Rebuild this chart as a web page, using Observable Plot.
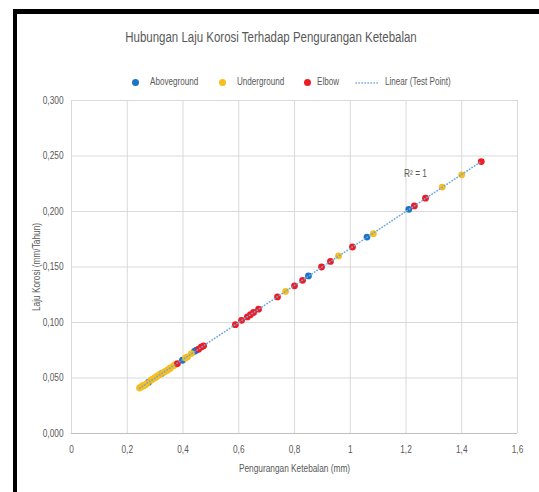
<!DOCTYPE html>
<html>
<head>
<meta charset="utf-8">
<script src="https://cdn.jsdelivr.net/npm/d3@7"></script>
<script src="https://cdn.jsdelivr.net/npm/@observablehq/plot@0.6"></script>
<style>
  html, body { margin: 0; padding: 0; background: #fff; }
  body { width: 539px; height: 492px; position: relative; overflow: hidden;
         font-family: "Liberation Sans", sans-serif; color: #595959; }
  #frame { position: absolute; left: 13px; top: 9px; width: 530px; height: 490px;
           border-left: 4px solid #000; border-top: 5px solid #000; box-sizing: border-box; }
  #title { position: absolute; left: 271px; top: 29px; font-size: 14px; color: #595959; white-space: nowrap;
           transform: translateX(-50%) scaleX(0.82); }
  .leg { position: absolute; top: 76px; font-size: 10px; color: #595959; white-space: nowrap;
         transform: scaleX(0.81); transform-origin: 0 50%; }
  .dot { position: absolute; top: 79px; width: 7px; height: 7px; border-radius: 50%; }
  #chart { position: absolute; left: 0; top: 90px; }
</style>
</head>
<body>
<div id="frame"></div>
<div id="title">Hubungan Laju Korosi Terhadap Pengurangan Ketebalan</div>
<div id="legend"></div>
<div id="chart"></div>
<script>
// ---- data ----
const aboveX = [0.276, 0.323, 0.398, 0.441, 0.448, 0.85, 1.06, 1.21];
const aboveY = [0.046, 0.054, 0.066, 0.074, 0.075, 0.142, 0.177, 0.202];

const underX = [0.244, 0.250, 0.255, 0.260, 0.265, 0.271, 0.285, 0.291, 0.298, 0.304, 0.309, 0.316, 0.330, 0.337, 0.344, 0.350, 0.355, 0.366, 0.372, 0.409, 0.416, 0.430, 0.768, 0.958, 1.083, 1.33, 1.40];
const underY = [0.041, 0.042, 0.043, 0.043, 0.044, 0.045, 0.048, 0.049, 0.050, 0.051, 0.052, 0.053, 0.055, 0.056, 0.057, 0.058, 0.059, 0.061, 0.062, 0.068, 0.069, 0.072, 0.128, 0.160, 0.180, 0.222, 0.233];

const elbowX = [0.380, 0.456, 0.466, 0.474, 0.588, 0.610, 0.631, 0.642, 0.653, 0.671, 0.739, 0.800, 0.829, 0.897, 0.929, 1.008, 1.230, 1.270, 1.470];
const elbowY = [0.063, 0.076, 0.078, 0.079, 0.098, 0.102, 0.105, 0.107, 0.109, 0.112, 0.123, 0.133, 0.138, 0.150, 0.155, 0.168, 0.205, 0.212, 0.245];

const seriesNames = ["Aboveground", "Underground", "Elbow"];
const seriesColors = ["#1B75C4", "#F7BE1E", "#EE1C25"];
const trendName = "Linear (Test Point)";
const xTicks = [0, 0.2, 0.4, 0.6, 0.8, 1, 1.2, 1.4, 1.6];
const yTicks = [0, 0.05, 0.1, 0.15, 0.2, 0.25, 0.3];
const r2Label = [{x: 1.234, y: 0.234, text: "R² = 1"}];

// ---- build table ----
const rows = [];
[[aboveX, aboveY], [underX, underY], [elbowX, elbowY]].forEach(([xs, ys], i) => {
  xs.forEach((x, j) => rows.push({x, y: ys[j], s: seriesNames[i]}));
});
const comma = s => s.replace(".", ",");
const xFmt = d => comma(String(d));
const yFmt = d => comma(d3.format(".3f")(d));

const chart = Plot.plot({
  width: 539,
  height: 402,
  marginLeft: 71,
  marginRight: 22,
  marginTop: 10,
  marginBottom: 59,
  style: {fontFamily: '"Liberation Sans", sans-serif', fontSize: "10px", color: "#595959", background: "transparent"},
  x: {domain: [0, 1.6]},
  y: {domain: [0, 0.3]},
  color: {domain: seriesNames, range: seriesColors},
  marks: [
    Plot.gridX(xTicks, {stroke: "#D9D9D9", strokeOpacity: 1}),
    Plot.gridY(yTicks, {stroke: "#D9D9D9", strokeOpacity: 1}),
    Plot.ruleY([0], {stroke: "#BFBFBF"}),
    Plot.axisX({ticks: xTicks, tickSize: 0, tickPadding: 12, tickFormat: xFmt, label: "Pengurangan Ketebalan (mm)", labelAnchor: "center", labelArrow: "none", labelOffset: 38}),
    Plot.axisY({ticks: yTicks, tickSize: 0, tickPadding: 8, tickFormat: yFmt, label: "Laju Korosi (mm/Tahun)", labelAnchor: "center", labelArrow: "none", labelOffset: 39}),
    Plot.dot(rows, {x: "x", y: "y", fill: "s", r: 3.4, stroke: "none"}),
    Plot.linearRegressionY(rows, {x: "x", y: "y", ci: 0, stroke: "#6FA8DC", strokeWidth: 1.6, strokeDasharray: "0.4,2.6", strokeLinecap: "round"}),
    Plot.text(r2Label, {x: "x", y: "y", text: "text", fill: "#595959", fontSize: 10})
  ]
});
document.getElementById("chart").appendChild(chart);

// condense the SVG text to mimic the narrow original typeface
chart.querySelectorAll("text").forEach(t => {
  const len = t.getComputedTextLength();
  if (len > 0) {
    t.setAttribute("textLength", (len * 0.83).toFixed(1));
    t.setAttribute("lengthAdjust", "spacingAndGlyphs");
  }
});

// ---- legend ----
const legend = document.getElementById("legend");
const dotX = [132, 219, 304];
const textX = [150, 237, 317];
seriesNames.forEach((n, i) => {
  const d = document.createElement("div");
  d.className = "dot"; d.style.left = dotX[i] + "px"; d.style.background = seriesColors[i];
  legend.appendChild(d);
  const t = document.createElement("div");
  t.className = "leg"; t.style.left = textX[i] + "px"; t.textContent = n;
  legend.appendChild(t);
});
const ls = document.createElementNS("http://www.w3.org/2000/svg", "svg");
ls.setAttribute("width", 24); ls.setAttribute("height", 6);
ls.style.position = "absolute"; ls.style.left = "355px"; ls.style.top = "80px";
ls.innerHTML = '<line x1="1" y1="3" x2="23" y2="3" stroke="#6FA8DC" stroke-width="1.6" stroke-dasharray="0.4,2.6" stroke-linecap="round"/>';
legend.appendChild(ls);
const lt = document.createElement("div");
lt.className = "leg"; lt.style.left = "385px"; lt.textContent = trendName;
legend.appendChild(lt);
</script>
</body>
</html>
